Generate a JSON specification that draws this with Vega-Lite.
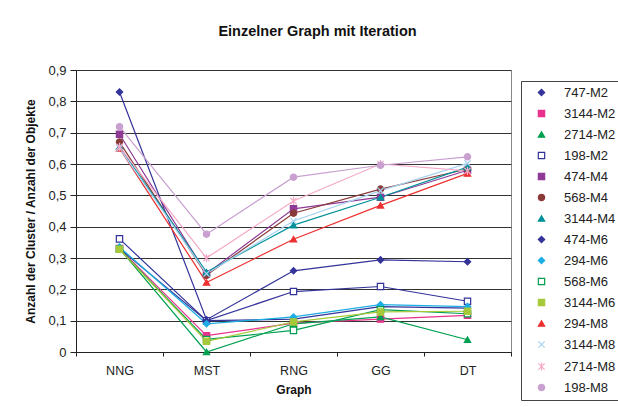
{
  "$schema": "https://vega.github.io/schema/vega-lite/v6.json",
  "width": 435,
  "height": 282,
  "autosize": {"type": "none"},
  "padding": {"left": 76, "top": 70, "right": 107, "bottom": 55},
  "background": "white",
  "config": {
    "font": "Liberation Sans",
    "view": {"stroke": "#888888", "strokeWidth": 1}
  },
  "title": {
    "text": "Einzelner Graph mit Iteration",
    "fontSize": 14.5,
    "fontWeight": "bold",
    "font": "Liberation Sans",
    "color": "#111111",
    "anchor": "middle",
    "offset": 25,
    "dx": 24
  },
  "data": {
    "values": [
      {"s": "747-M2", "NNG": 0.83, "MST": 0.103, "RNG": 0.259, "GG": 0.294, "DT": 0.288},
      {"s": "3144-M2", "NNG": 0.33, "MST": 0.052, "RNG": 0.092, "GG": 0.105, "DT": 0.117},
      {"s": "2714-M2", "NNG": 0.33, "MST": 0.0, "RNG": 0.09, "GG": 0.112, "DT": 0.039},
      {"s": "198-M2", "NNG": 0.361, "MST": 0.1, "RNG": 0.193, "GG": 0.209, "DT": 0.162},
      {"s": "474-M4", "NNG": 0.695, "MST": 0.25, "RNG": 0.457, "GG": 0.494, "DT": 0.58},
      {"s": "568-M4", "NNG": 0.67, "MST": 0.245, "RNG": 0.443, "GG": 0.52, "DT": 0.584},
      {"s": "3144-M4", "NNG": 0.655, "MST": 0.255, "RNG": 0.405, "GG": 0.494, "DT": 0.59},
      {"s": "474-M6", "NNG": 0.33, "MST": 0.1, "RNG": 0.105, "GG": 0.145, "DT": 0.14},
      {"s": "294-M6", "NNG": 0.335, "MST": 0.09, "RNG": 0.112, "GG": 0.151, "DT": 0.145},
      {"s": "568-M6", "NNG": 0.328, "MST": 0.04, "RNG": 0.069, "GG": 0.135, "DT": 0.122},
      {"s": "3144-M6", "NNG": 0.328, "MST": 0.034, "RNG": 0.096, "GG": 0.128, "DT": 0.13},
      {"s": "294-M8", "NNG": 0.65, "MST": 0.222, "RNG": 0.36, "GG": 0.468, "DT": 0.57},
      {"s": "3144-M8", "NNG": 0.65, "MST": 0.25, "RNG": 0.418, "GG": 0.515, "DT": 0.602},
      {"s": "2714-M8", "NNG": 0.655, "MST": 0.3, "RNG": 0.482, "GG": 0.6, "DT": 0.578},
      {"s": "198-M8", "NNG": 0.719, "MST": 0.376, "RNG": 0.558, "GG": 0.596, "DT": 0.623}
    ]
  },
  "transform": [{"fold": ["NNG", "MST", "RNG", "GG", "DT"], "as": ["g", "v"]}],
  "encoding": {
    "x": {
      "field": "g",
      "type": "ordinal",
      "sort": ["NNG", "MST", "RNG", "GG", "DT"],
      "bandPosition": 0.5,
      "scale": {"type": "band", "paddingInner": 0, "paddingOuter": 0},
      "axis": {
        "title": "Graph",
        "titleFontWeight": "bold",
        "titleFontSize": 12,
        "titleColor": "#111111",
        "titlePadding": 8,
        "labelFontSize": 12.5,
        "labelColor": "#222222",
        "labelAngle": 0,
        "labelPadding": 8,
        "tickBand": "extent",
        "tickSize": 4,
        "tickColor": "#222222",
        "domainColor": "#222222",
        "grid": false
      }
    },
    "y": {
      "field": "v",
      "type": "quantitative",
      "scale": {"domain": [0, 0.9], "nice": false, "zero": true},
      "axis": {
        "title": "Anzahl der Cluster / Anzahl der Objekte",
        "titleFontWeight": "bold",
        "titleFontSize": 12,
        "titleColor": "#111111",
        "titlePadding": 10,
        "values": [0, 0.1, 0.2, 0.3, 0.4, 0.5, 0.6, 0.7, 0.8, 0.9],
        "labelExpr": "datum.value == 0 ? '0' : replace(format(datum.value, '.1f'), '.', ',')",
        "labelFontSize": 13,
        "labelColor": "#222222",
        "labelPadding": 4,
        "tickSize": 6,
        "tickColor": "#222222",
        "domainColor": "#222222",
        "grid": true,
        "gridColor": "#333333",
        "gridWidth": 1
      }
    }
  },
  "layer": [
    {
      "mark": {"type": "line", "strokeWidth": 1.2},
      "encoding": {
        "stroke": {
          "field": "s",
          "type": "nominal",
          "sort": ["747-M2", "3144-M2", "2714-M2", "198-M2", "474-M4", "568-M4", "3144-M4", "474-M6", "294-M6", "568-M6", "3144-M6", "294-M8", "3144-M8", "2714-M8", "198-M8"],
          "scale": {
            "domain": ["747-M2", "3144-M2", "2714-M2", "198-M2", "474-M4", "568-M4", "3144-M4", "474-M6", "294-M6", "568-M6", "3144-M6", "294-M8", "3144-M8", "2714-M8", "198-M8"],
            "range": ["#333399", "#E8308C", "#00A050", "#333399", "#8E3A96", "#8B3A3A", "#00929A", "#333399", "#1CADE4", "#00A050", "#A6C93A", "#EE3030", "#A6D2F0", "#F5A9C8", "#C9A0D0"]
          },
          "legend": {
            "orient": "none",
            "legendX": 445,
            "legendY": 11,
            "title": null,
            "strokeColor": "#444444",
            "padding": 5,
            "symbolOffset": 9,
            "labelOffset": 16,
            "labelFontSize": 13,
            "labelColor": "#222222",
            "rowPadding": 7,
            "symbolSize": 40,
            "symbolStrokeWidth": 1.2
          }
        }
      }
    },
    {
      "mark": {"type": "point", "size": 40, "strokeWidth": 1.2, "opacity": 1},
      "encoding": {
        "stroke": {
          "field": "s",
          "type": "nominal",
          "sort": ["747-M2", "3144-M2", "2714-M2", "198-M2", "474-M4", "568-M4", "3144-M4", "474-M6", "294-M6", "568-M6", "3144-M6", "294-M8", "3144-M8", "2714-M8", "198-M8"]
        },
        "fill": {
          "field": "s",
          "type": "nominal",
          "sort": ["747-M2", "3144-M2", "2714-M2", "198-M2", "474-M4", "568-M4", "3144-M4", "474-M6", "294-M6", "568-M6", "3144-M6", "294-M8", "3144-M8", "2714-M8", "198-M8"],
          "scale": {
            "domain": ["747-M2", "3144-M2", "2714-M2", "198-M2", "474-M4", "568-M4", "3144-M4", "474-M6", "294-M6", "568-M6", "3144-M6", "294-M8", "3144-M8", "2714-M8", "198-M8"],
            "range": ["#333399", "#E8308C", "#00A050", "#FFFFFF", "#8E3A96", "#8B3A3A", "#00929A", "#333399", "#1CADE4", "#FFFFFF", "#A6C93A", "#EE3030", "#A6D2F0", "#F5A9C8", "#C9A0D0"]
          }
        },
        "shape": {
          "field": "s",
          "type": "nominal",
          "sort": ["747-M2", "3144-M2", "2714-M2", "198-M2", "474-M4", "568-M4", "3144-M4", "474-M6", "294-M6", "568-M6", "3144-M6", "294-M8", "3144-M8", "2714-M8", "198-M8"],
          "scale": {
            "domain": ["747-M2", "3144-M2", "2714-M2", "198-M2", "474-M4", "568-M4", "3144-M4", "474-M6", "294-M6", "568-M6", "3144-M6", "294-M8", "3144-M8", "2714-M8", "198-M8"],
            "range": ["diamond", "square", "triangle-up", "square", "square", "circle", "triangle-up", "diamond", "diamond", "square", "square", "triangle-up", "M-1,-1L1,1M-1,1L1,-1", "M-1,-1L1,1M-1,1L1,-1M0,-1.3L0,1.3", "circle"]
          }
        }
      }
    }
  ]
}
